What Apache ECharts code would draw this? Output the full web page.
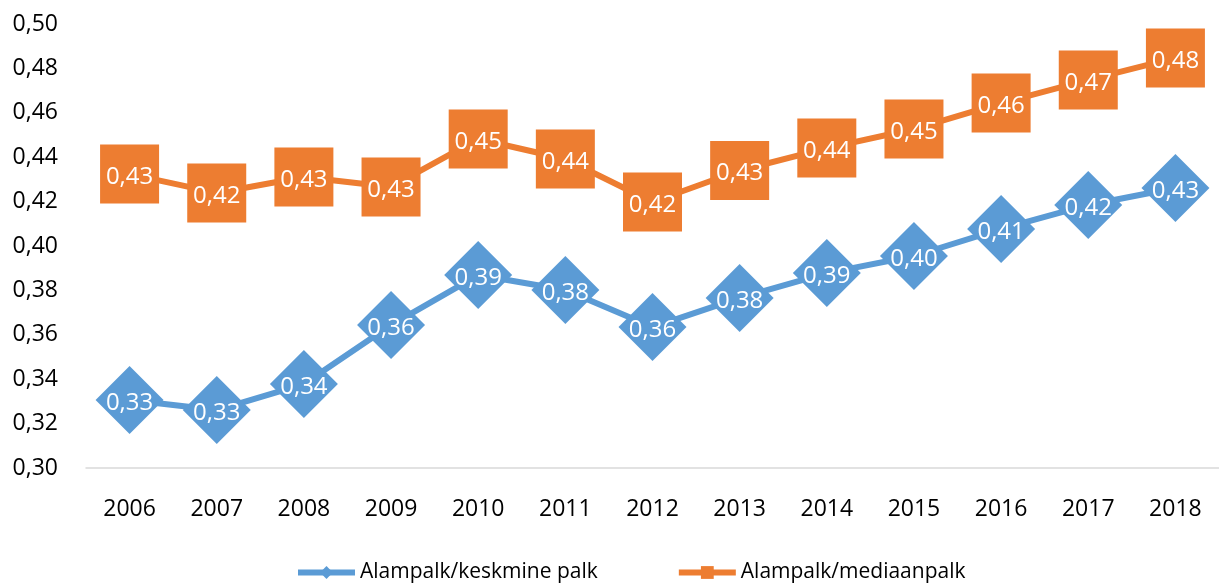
<!DOCTYPE html>
<html>
<head>
<meta charset="utf-8">
<script src="https://cdn.jsdelivr.net/npm/echarts@6/dist/echarts.min.js"></script>
<style>
  html, body { margin: 0; padding: 0; background: #fff; }
  #chart { width: 1219px; height: 583px; }
</style>
</head>
<body>
<div id="chart"></div>
<script>
const years = ['2006', '2007', '2008', '2009', '2010', '2011', '2012', '2013', '2014', '2015', '2016', '2017', '2018']
const keskmine = [0.3306, 0.3261, 0.3378, 0.3644, 0.3869, 0.3802, 0.3635, 0.3766, 0.3878, 0.3955, 0.4077, 0.4185, 0.4261]
const mediaan = [0.4324, 0.4239, 0.4311, 0.4266, 0.4482, 0.4392, 0.4198, 0.434, 0.4441, 0.4527, 0.4644, 0.4748, 0.4847]
const seriesNames = ['Alampalk/keskmine palk', 'Alampalk/mediaanpalk']

const font = '"Open Sans", "Noto Sans", sans-serif'
const fmt = (v) => v.toFixed(2).replace('.', ',')

const chartObj = echarts.init(document.getElementById('chart'))

const labelStyle = {
  show: true,
  position: 'inside',
  offset: [0, 3],
  color: '#fff',
  fontSize: 24,
  fontFamily: font,
  formatter: (p) => fmt(p.value)
}

chartObj.setOption({
  animation: false,
  textStyle: { fontFamily: font },
  grid: {
    left: 86,
    top: 24,
    width: 1136,
    height: 444
  },
  legend: {
    left: 290,
    top: 557,
    itemGap: 78,
    itemWidth: 57,
    itemHeight: 16,
    lineStyle: { width: 6 },
    textStyle: { fontSize: 21, color: '#000', fontFamily: font },
    data: seriesNames
  },
  xAxis: [
    {
      type: 'category',
      data: years,
      axisLine: { lineStyle: { color: '#d9d9d9', width: 1.5 } },
      axisTick: { length: 9, lineStyle: { color: '#d9d9d9', width: 1.5 } },
      axisLabel: { color: '#000', fontSize: 23, margin: 30, fontFamily: font }
    },
    {
      // upper half of the crossing ticks
      type: 'category',
      data: years,
      position: 'bottom',
      axisLine: { show: false },
      axisTick: { inside: true, length: 9, lineStyle: { color: '#d9d9d9', width: 1.5 } },
      axisLabel: { show: false }
    }
  ],
  yAxis: {
    type: 'value',
    min: 0.3,
    max: 0.5,
    interval: 0.02,
    axisLine: { show: false },
    axisTick: { show: false },
    splitLine: { show: false },
    axisLabel: {
      color: '#000',
      fontSize: 23,
      margin: 28,
      fontFamily: font,
      formatter: (v) => fmt(v)
    }
  },
  series: [
    {
      name: seriesNames[0],
      type: 'line',
      data: keskmine,
      symbol: 'diamond',
      symbolSize: 68,
      lineStyle: { color: '#5B9BD5', width: 6 },
      itemStyle: { color: '#5B9BD5' },
      label: labelStyle
    },
    {
      name: seriesNames[1],
      type: 'line',
      data: mediaan,
      symbol: 'rect',
      symbolSize: 59,
      lineStyle: { color: '#ED7D31', width: 6 },
      itemStyle: { color: '#ED7D31' },
      label: labelStyle
    }
  ]
})
</script>
</body>
</html>
